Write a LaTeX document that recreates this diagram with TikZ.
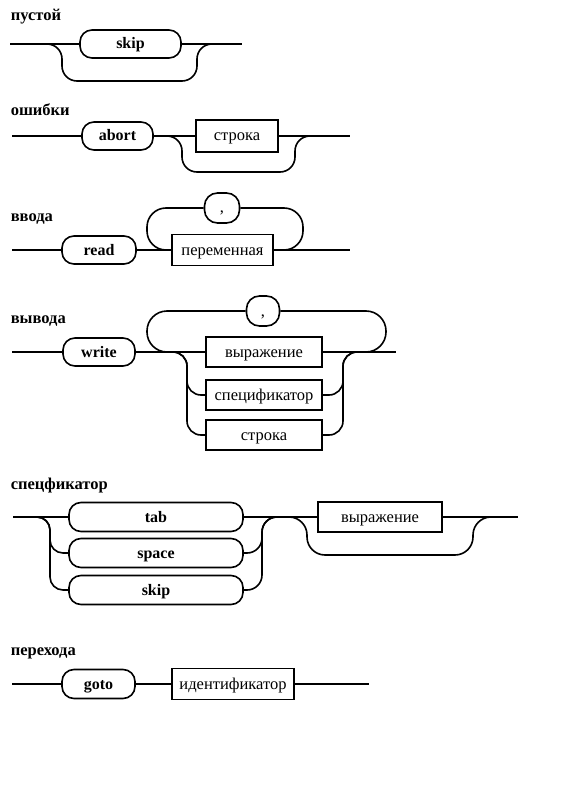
\documentclass[tikz,border=0pt]{standalone}
\usepackage{fontspec}
\setmainfont{Liberation Serif}
\begin{document}
\begin{tikzpicture}[x=1pt,y=-1pt,line width=1.6pt,
  kwbox/.style={draw, rounded corners=12pt, minimum height=28pt, inner sep=0pt,
    text height=12pt, text depth=2pt, font=\fontsize{16}{19}\selectfont\bfseries},
  ntbox/.style={draw, rectangle, minimum height=31pt, inner sep=0pt,
    text height=12pt, text depth=2pt, font=\fontsize{16.5}{19}\selectfont},
  commabox/.style={draw, rounded corners=13pt, minimum width=34pt, minimum height=30pt,
    inner sep=0pt, text height=12pt, text depth=2pt, font=\fontsize{16.5}{19}\selectfont},
  titlelbl/.style={anchor=base west, inner sep=0pt, font=\fontsize{16.5}{19}\selectfont\bfseries},
  rr/.style={rounded corners=#1pt}]
\useasboundingbox (0,0) rectangle (562,802);

% ---------- пустой
\node[titlelbl] (T1) at (10,21) {пустой};
\coordinate (a1) at (10,44);
\node[kwbox, minimum width=101pt] (skip1) at (130.5,44) {skip};
\coordinate (z1) at (242,44);
\draw (a1) -- (skip1) -- (z1);
\coordinate (b1a) at (45,44);
\coordinate (b1b) at (215,44);
\draw[rr=15] (b1a) -| (62,81) -| (197,44) -- (b1b);

% ---------- ошибки
\node[titlelbl] (T2) at (10,116) {ошибки};
\coordinate (a2) at (12,136);
\node[kwbox, minimum width=71pt] (abort) at (117.5,136) {abort};
\node[ntbox, minimum width=82pt, minimum height=32pt] (str2) at (237,136) {строка};
\coordinate (z2) at (350,136);
\draw (a2) -- (abort) -- (str2) -- (z2);
\coordinate (b2b) at (315,136);
\draw[rr=15] (abort.east) -| (182,172) -| (295,136) -- (b2b);

% ---------- ввода
\node[titlelbl] (T3) at (10,222) {ввода};
\coordinate (a3) at (12,250);
\node[kwbox, minimum width=74pt] (read) at (99,250) {read};
\node[ntbox, minimum width=101pt] (per) at (222.5,250) {переменная};
\coordinate (z3) at (350,250);
\node[commabox, minimum width=35pt] (c3) at (222,208) {,};
\draw (a3) -- (read) -- (per) -- (z3);
\draw[rr=19] (c3.west) -| (147,250) -- (per.west);
\draw[rr=19] (c3.east) -| (303,250) -- (per.east);

% ---------- вывода
\node[titlelbl] (T4) at (10,323) {вывода};
\coordinate (a4) at (12,352);
\node[kwbox, minimum width=72pt] (write) at (99,352) {write};
\node[ntbox, minimum width=116pt, minimum height=30pt] (vyr) at (264,352) {выражение};
\node[ntbox, minimum width=116pt, minimum height=30pt] (spec) at (264,395) {спецификатор};
\node[ntbox, minimum width=116pt, minimum height=30pt] (str4) at (264,435) {строка};
\node[commabox, minimum width=33pt] (c4) at (263,311) {,};
\coordinate (z4) at (396,352);
\draw (a4) -- (write) -- (vyr) -- (z4);
\draw[rr=20] (c4.west) -| (147,352) -- (vyr.west);
\draw[rr=20] (c4.east) -| (386,352) -- (vyr.east);
\coordinate (b4a) at (165,352);
\coordinate (b4b) at (360,352);
\draw[rr=14] (b4a) -| (187,395) -- (spec.west);
\draw[rr=14] (b4a) -| (187,435) -- (str4.west);
\draw[rr=14] (spec.east) -| (343,352) -- (b4b);
\draw[rr=14] (str4.east) -| (343,352) -- (b4b);

% ---------- спецфикатор
\node[titlelbl] (T5) at (10,489) {спецфикатор};
\coordinate (a5) at (13,517);
\node[kwbox, minimum width=174pt, minimum height=29pt] (tab) at (156,517) {tab};
\node[kwbox, minimum width=174pt, minimum height=29pt] (space) at (156,553) {space};
\node[kwbox, minimum width=174pt, minimum height=29pt] (skip5) at (156,590) {skip};
\node[ntbox, minimum width=124pt, minimum height=30pt] (vyr5) at (380,517) {выражение};
\coordinate (z5) at (518,517);
\draw (a5) -- (tab) -- (vyr5) -- (z5);
\coordinate (b5a) at (37,517);
\coordinate (b5b) at (278,517);
\draw[rr=13] (b5a) -| (50,553) -- (space.west);
\draw[rr=13] (b5a) -| (50,590) -- (skip5.west);
\draw[rr=15] (space.east) -| (262,517) -- (b5b);
\draw[rr=15] (skip5.east) -| (262,517) -- (b5b);
\coordinate (b5c) at (288,517);
\coordinate (b5d) at (493,517);
\draw[rr=18] (b5c) -| (307,555) -| (473,517) -- (b5d);

% ---------- перехода
\node[titlelbl] (T6) at (10,655) {перехода};
\coordinate (a6) at (12,684);
\node[kwbox, minimum width=73pt, minimum height=29pt] (goto) at (98.5,684) {goto};
\node[ntbox, minimum width=122pt] (id) at (233,684) {идентификатор};
\coordinate (z6) at (369,684);
\draw (a6) -- (goto) -- (id) -- (z6);
\end{tikzpicture}
\end{document}
